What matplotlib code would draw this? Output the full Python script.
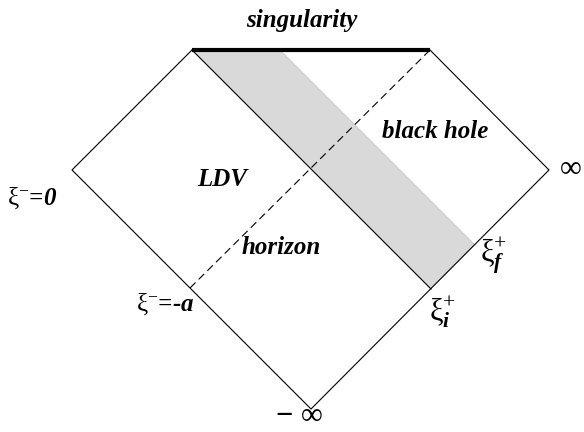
import numpy as np
import matplotlib
matplotlib.use("Agg")
import matplotlib.pyplot as plt

plt.rcParams['mathtext.fontset'] = 'custom'
plt.rcParams['mathtext.rm'] = 'Liberation Serif'
plt.rcParams['mathtext.it'] = 'Liberation Serif:italic:bold'
plt.rcParams['mathtext.bf'] = 'Liberation Serif:bold'

# diagram corners, in pixel units of the 584x432 picture (y downwards)
left = (72, 170)
top_left = (192, 50)
top_right = (430, 50)
right = (549, 170)
bottom = (311, 409)

# band of infalling matter, between xi_i^+ and xi_f^+
band_top = (280, 50)
xi_f = (475, 245)
xi_i = (431, 289)

# horizon from xi^- = -a up to the corner of the singularity
horizon_start = (190, 288)

labels = ['singularity', 'black hole', 'LDV', 'horizon']
label_pos = [(302, 20), (435, 131), (222, 180), (281, 248)]

fig = plt.figure(figsize=(5.84, 4.32), dpi=100)
ax = fig.add_axes([0, 0, 1, 1])
ax.set_xlim(0, 584)
ax.set_ylim(432, 0)
ax.axis('off')

# shaded band
bx = [top_left[0], band_top[0], xi_f[0], xi_i[0]]
by = [top_left[1], band_top[1], xi_f[1], xi_i[1]]
ax.fill(bx, by, color='#d9d9d9', lw=0)
ax.plot([band_top[0], xi_f[0]], [band_top[1], xi_f[1]], color='#c8c8c8', lw=0.6)

# outline
ox = [top_left[0], left[0], bottom[0], right[0], top_right[0]]
oy = [top_left[1], left[1], bottom[1], right[1], top_right[1]]
ax.plot(ox, oy, color='black', lw=0.8)
ax.plot([top_left[0], top_right[0]], [top_left[1], top_right[1]], color='black', lw=3,
        solid_capstyle='butt')
ax.plot([top_left[0], xi_i[0]], [top_left[1], xi_i[1]], color='black', lw=0.8)
ax.plot([horizon_start[0], top_right[0]], [horizon_start[1], top_right[1]], color='black',
        lw=0.8, dashes=(7, 4))

font = dict(family='Liberation Serif', weight='bold', style='italic', fontsize=18)
for s, (x, y) in zip(labels, label_pos):
    ax.text(x, y, s, ha='center', va='center', **font)

ax.text(32, 198, r'$\mathrm{\xi}^{-}$=0', ha='center', va='center', **font)
ax.text(165, 304, r'$\mathrm{\xi}^{-}$=-a', ha='center', va='center', **font)
ax.text(493, 256, r'$\mathrm{\xi}^{+}_{f}$', ha='center', va='center', fontsize=22)
ax.text(442, 312, r'$\mathrm{\xi}^{+}_{i}$', ha='center', va='center', fontsize=22)
ax.text(571, 170, '∞', ha='center', va='center', family=['Liberation Serif', 'DejaVu Serif'],
        fontsize=22)
ax.text(299, 416, r'$\mathbf{-}$ ∞', ha='center', va='center',
        family=['Liberation Serif', 'DejaVu Serif'], fontsize=22)

fig.savefig('out.png', dpi=100)
